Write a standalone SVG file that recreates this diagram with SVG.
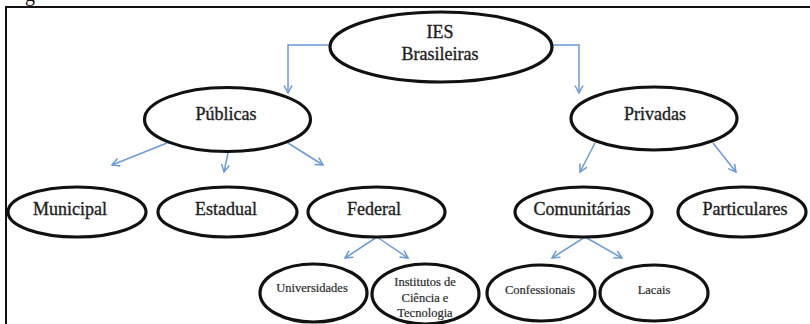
<svg xmlns="http://www.w3.org/2000/svg" width="810" height="324" viewBox="0 0 810 324">
  <style>
    .node ellipse { fill: #ffffff; stroke: #111111; stroke-width: 3.2; }
    text { font-family: 'Liberation Serif', 'DejaVu Serif', 'Times New Roman', serif; }
    .lbl { font-size: 18px; fill: #1e1e1e; stroke: #1e1e1e; stroke-width: 0.35; text-anchor: middle; }
    .sm { font-size: 12.5px; fill: #2a2a2a; stroke: #2a2a2a; stroke-width: 0.2; text-anchor: middle; }
    .edge { fill: none; stroke: #6b9bd6; stroke-width: 1.5; }
    .frame { fill: none; stroke: #111111; stroke-width: 2; }
  </style>
  <defs>
    <marker id="arrow" markerUnits="userSpaceOnUse" markerWidth="10" markerHeight="10" refX="8" refY="4.5" orient="auto">
      <path d="M0.5,0.5 L8,4.5 L0.5,8.5" fill="none" stroke="#6b9bd6" stroke-width="1.5"/>
    </marker>
  </defs>

  <rect width="810" height="324" fill="#ffffff"/>

  <!-- caption fragment above the frame -->
  <text x="25" y="0.5" font-size="20" fill="#111">g</text>

  <!-- frame: top and left rules -->
  <path class="frame" d="M6,324 V7 H810"/>

  <!-- connectors -->
  <g id="connectors">
    <path class="edge" d="M330,45 H288 V93" marker-end="url(#arrow)"/>
    <path class="edge" d="M552,45 H579 V93" marker-end="url(#arrow)"/>
    <path class="edge" d="M167,143 L112,165" marker-end="url(#arrow)"/>
    <path class="edge" d="M228,153 L224,172" marker-end="url(#arrow)"/>
    <path class="edge" d="M288,143 L323,165" marker-end="url(#arrow)"/>
    <path class="edge" d="M595,143 L580,172" marker-end="url(#arrow)"/>
    <path class="edge" d="M713,143 L736,172" marker-end="url(#arrow)"/>
    <path class="edge" d="M377,237 L345,258" marker-end="url(#arrow)"/>
    <path class="edge" d="M377,237 L408,258" marker-end="url(#arrow)"/>
    <path class="edge" d="M585,237 L552,258" marker-end="url(#arrow)"/>
    <path class="edge" d="M585,237 L622,258" marker-end="url(#arrow)"/>
  </g>

  <!-- root -->
  <g id="ies" class="node">
    <ellipse cx="441" cy="47" rx="111" ry="35"/>
    <text class="lbl" x="440" y="38">IES</text>
    <text class="lbl" x="440" y="60">Brasileiras</text>
  </g>

  <!-- level 1 -->
  <g id="publicas" class="node">
    <ellipse cx="227.5" cy="119.5" rx="83" ry="32"/>
    <text class="lbl" x="226" y="120">Públicas</text>
  </g>
  <g id="privadas" class="node">
    <ellipse cx="654" cy="118.5" rx="83" ry="31.5"/>
    <text class="lbl" x="655" y="120">Privadas</text>
  </g>

  <!-- level 2 -->
  <g id="municipal" class="node">
    <ellipse cx="77" cy="212" rx="69" ry="25"/>
    <text class="lbl" x="70" y="215">Municipal</text>
  </g>
  <g id="estadual" class="node">
    <ellipse cx="227.5" cy="212" rx="69.5" ry="25"/>
    <text class="lbl" x="226" y="215">Estadual</text>
  </g>
  <g id="federal" class="node">
    <ellipse cx="376.5" cy="212" rx="68.5" ry="25"/>
    <text class="lbl" x="374" y="215">Federal</text>
  </g>
  <g id="comunitarias" class="node">
    <ellipse cx="583.5" cy="212" rx="68.5" ry="25"/>
    <text class="lbl" x="582" y="215">Comunitárias</text>
  </g>
  <g id="particulares" class="node">
    <ellipse cx="742" cy="212" rx="64" ry="25"/>
    <text class="lbl" x="745" y="215">Particulares</text>
  </g>

  <!-- level 3 -->
  <g id="universidades" class="node">
    <ellipse cx="313.5" cy="293" rx="53.5" ry="29"/>
    <text class="sm" x="312" y="292">Universidades</text>
  </g>
  <g id="institutos" class="node">
    <ellipse cx="425.5" cy="294" rx="53.5" ry="30"/>
    <text class="sm" x="425" y="286">Institutos de</text>
    <text class="sm" x="425" y="302">Ciência e</text>
    <text class="sm" x="425" y="317">Tecnologia</text>
  </g>
  <g id="confessionais" class="node">
    <ellipse cx="541" cy="293" rx="54" ry="28"/>
    <text class="sm" x="540" y="294">Confessionais</text>
  </g>
  <g id="lacais" class="node">
    <ellipse cx="654" cy="293" rx="54" ry="28"/>
    <text class="sm" x="654" y="294">Lacais</text>
  </g>
</svg>
